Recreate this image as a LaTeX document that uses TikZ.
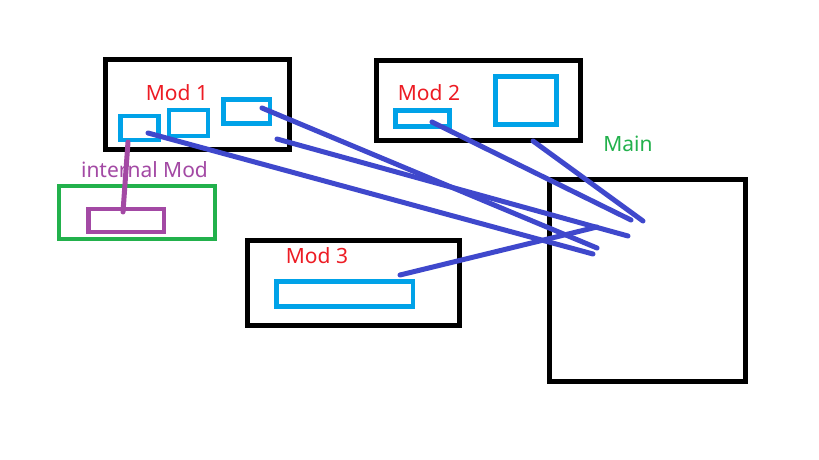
\documentclass[tikz,border=0pt]{standalone}
\usepackage{fontspec}
\setmainfont{Noto Sans}
\definecolor{pblack}{HTML}{000000}
\definecolor{pred}{HTML}{ED1C24}
\definecolor{pblue}{HTML}{00A2E8}
\definecolor{pgreen}{HTML}{22B14C}
\definecolor{ppurple}{HTML}{A349A4}
\definecolor{pline}{HTML}{3F48CC}
\tikzset{
  boxbase/.style={rectangle, inner sep=0pt, outer sep=0pt, anchor=north west},
  blk/.style={boxbase, draw=pblack, line width=5pt},
  sub/.style={boxbase, draw=pblue, line width=4.5pt},
  grn/.style={boxbase, draw=pgreen, line width=4.5pt},
  prp/.style={boxbase, draw=ppurple, line width=4.5pt},
  lbl/.style={font=\fontsize{21}{24}\selectfont, inner sep=0pt, anchor=base},
  wire/.style={draw=pline, line width=5pt, line cap=round},
  pwire/.style={draw=ppurple, line width=5pt, line cap=round},
}
\begin{document}
\begin{tikzpicture}[x=1pt, y=-1pt]
\useasboundingbox[fill=white] (0,0) rectangle (819,460);
% Mod 1
\node[blk, minimum width=184.5pt, minimum height=89.5pt] (mod1) at (105,59.5) {};
\node[sub, minimum width=38pt, minimum height=24.2pt] (m1a) at (120.5,115.8) {};
\node[sub, minimum width=39pt, minimum height=26pt] (m1b) at (169,110) {};
\node[sub, minimum width=46.5pt, minimum height=24pt] (m1c) at (223.5,99.5) {};
\node[lbl, text=pred] (t1) at (177,100) {Mod 1};
% Mod 2
\node[blk, minimum width=203.5pt, minimum height=80.3pt] (mod2) at (376.5,60.5) {};
\node[sub, minimum width=54pt, minimum height=16pt] (m2a) at (395.5,110.5) {};
\node[sub, minimum width=61pt, minimum height=48pt] (m2b) at (495.5,76.5) {};
\node[lbl, text=pred] (t2) at (429,100) {Mod 2};
% Main
\node[blk, minimum width=196pt, minimum height=201.5pt] (main) at (549.5,179.5) {};
\node[lbl, text=pgreen] (tm) at (628,151) {Main};
% internal
\node[grn, minimum width=156.2pt, minimum height=53.2pt] (intl) at (58.8,185.8) {};
\node[prp, minimum width=75.5pt, minimum height=22.8pt] (intb) at (88.5,209) {};
\node[lbl, text=ppurple] (ti) at (144.5,177) {internal Mod};
% Mod 3
\node[blk, minimum width=211.5pt, minimum height=85pt] (mod3) at (247.5,240.8) {};
\node[sub, minimum width=136.5pt, minimum height=25pt] (m3a) at (276.5,281.5) {};
\node[lbl, text=pred] (t3) at (317,263) {Mod 3};
% wire end points
\coordinate (s1) at (148,133);
\coordinate (s2) at (262,108);
\coordinate (s3) at (277,139);
\coordinate (s4) at (432,122);
\coordinate (s5) at (533,141);
\coordinate (s6) at (400,275);
\coordinate (e1) at (593,254);
\coordinate (e2) at (597,248);
\coordinate (e3) at (628,236);
\coordinate (e4) at (631,220);
\coordinate (e5) at (643,221);
\coordinate (e6) at (597,227);
\coordinate (ps) at (128,142);
\coordinate (pe) at (123,212);
\draw[pwire] (ps) -- (pe);
\draw[wire] (s1) -- (e1);
\draw[wire] (s2) -- (e2);
\draw[wire] (s3) -- (e3);
\draw[wire] (s4) -- (e4);
\draw[wire] (s5) -- (e5);
\draw[wire] (s6) -- (e6);
\end{tikzpicture}
\end{document}
